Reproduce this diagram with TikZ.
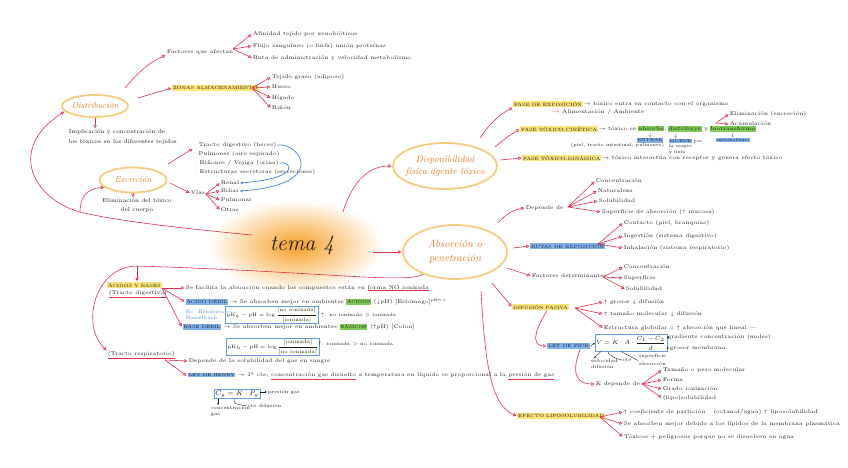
\documentclass[tikz,border=0pt]{standalone}
\usepackage{amsmath,amssymb}
\usetikzlibrary{arrows.meta,shapes.geometric,calc}
\definecolor{linered}{RGB}{224,48,78}
\definecolor{ellc}{RGB}{244,204,128}
\definecolor{orng}{RGB}{232,118,40}
\definecolor{hly}{RGB}{251,228,120}
\definecolor{hlb}{RGB}{128,178,238}
\definecolor{hlg}{RGB}{128,204,84}
\definecolor{bluearr}{RGB}{64,132,218}
\definecolor{txtc}{RGB}{28,28,28}
\definecolor{glow}{RGB}{246,160,40}
\newcommand\myhly[1]{{\setlength{\fboxsep}{0.7pt}\colorbox{hly}{#1}}}
\newcommand\myhlb[1]{{\setlength{\fboxsep}{0.7pt}\colorbox{hlb}{#1}}}
\newcommand\myhlg[1]{{\setlength{\fboxsep}{0.7pt}\colorbox{hlg}{#1}}}
\newcommand\myredul[1]{\textcolor{linered}{\underline{\textcolor{txtc}{#1}}}}
\newcommand\mycaps[1]{{\fontsize{4.5}{5.5}\selectfont #1}}
\begin{document}
\begin{tikzpicture}[x=1pt,y=-1pt,
  txt/.style={font=\fontsize{5.4}{6.5}\selectfont, text=txtc, inner sep=0.6pt, anchor=west},
  ml/.style={txt, align=left, anchor=north west},
  capy/.style={txt, fill=hly, font=\fontsize{4.6}{5.5}\selectfont, inner sep=1pt},
  capb/.style={txt, fill=hlb, font=\fontsize{4.6}{5.5}\selectfont, inner sep=1pt},
  arr/.style={draw=linered, line width=0.6pt, -{Triangle[open,length=3.2pt,width=3.4pt]}, shorten >=0.5pt},
  sarr/.style={draw=txtc, line width=0.35pt, -{Stealth[length=2.2pt,width=1.8pt]}},
  sln/.style={draw=txtc, line width=0.35pt},
  barr/.style={draw=bluearr, line width=0.7pt, -{Stealth[length=3pt,width=2.6pt]}},
  topic/.style={ellipse, draw=ellc, line width=1.8pt, inner sep=0pt},
  fbx/.style={draw=bluearr!80, line width=0.45pt, inner sep=1.2pt, text=txtc}
]
\useasboundingbox (0,0) rectangle (848,468);

% ---------- centre ----------
\shade[inner color=glow, outer color=white] (296,246) ellipse [x radius=88pt, y radius=46pt];
\node[font=\itshape\fontsize{22}{24}\selectfont, text=txtc] (tema) at (302,245) {tema 4};

% ---------- topics ----------
\node[topic, minimum width=66pt, minimum height=22pt,
  label={[text=orng, font=\itshape\fontsize{8.5}{10}\selectfont]center:Distribución}] (dist) at (95,106) {};
\node[topic, minimum width=67pt, minimum height=25pt,
  label={[text=orng, font=\itshape\fontsize{8.5}{10}\selectfont]center:Excreción}] (exc) at (133,180) {};
\node[topic, minimum width=104pt, minimum height=46pt,
  label={[text=orng, font=\itshape\fontsize{9.5}{12}\selectfont, align=center]center:{Disponibilidad\\física agente tóxico}}] (disp) at (445,166) {};
\node[topic, minimum width=104pt, minimum height=54pt,
  label={[text=orng, font=\itshape\fontsize{10.5}{14}\selectfont, align=center]center:{Absorción o\\penetración}}] (abs) at (455,252) {};

% ---------- main connectors from centre ----------
\coordinate (t0) at (252,235);
\coordinate (jA) at (80,212);
\draw[arr] (t0) .. controls (200,230) and (120,222) .. (jA) .. controls (35,200) and (5,150) .. (dist.190);
\draw[arr] (jA) .. controls (80,196) and (88,188) .. (exc.195);
\coordinate (t1) at (343,212);
\draw[arr] (t1) .. controls (350,188) and (365,166) .. (disp.west);
\coordinate (t2) at (373,252);
\draw[arr] (t2) -- (abs.west);
\coordinate (jB) at (137,266);
\node[capy] (acb) at (107,285) {ÁCIDOS Y BASES};
\node[txt] (tdg) at (108,294) {\myredul{(Tracto digestivo)}};
\node[txt] (trr) at (107,355) {\myredul{(Tracto respiratorio)}};
\draw[arr] (abs.215) .. controls (405,284) and (330,272) .. (jB) .. controls (95,266) and (80,325) .. (trr.north west);
\draw[arr] (jB) -- (jB |- acb.north);

% ---------- Distribución ----------
\node[txt] (fac) at (166,52) {Factores que afectan};
\coordinate (d1s) at (125,88);
\draw[arr] (d1s) .. controls (138,72) and (150,62) .. (fac.south west);
\coordinate (ff) at (233,49);
\node[txt] (a1) at (252,34) {Afinidad tejido por xenobióticos};
\node[txt] (a2) at (252,46) {Flujo sanguíneo (o linfa) unión proteínas};
\node[txt] (a3) at (252,58) {Ruta de administración y velocidad metabolismo};
\foreach \n in {a1,a2,a3} \draw[arr] (ff) -- (\n.west);
\node[capy] (zon) at (172,88) {ZONAS ALMACENAMIENTO};
\coordinate (d2s) at (138,98);
\draw[arr] (d2s) -- (zon.west);
\coordinate (zf) at (252,88);
\node[txt] (z1) at (271,77) {Tejido graso (adiposo)};
\node[txt] (z2) at (271,87) {Hueso};
\node[txt] (z3) at (271,98) {Hígado};
\node[txt] (z4) at (271,108) {Riñón};
\foreach \n in {z1,z2,z3,z4} \draw[arr] (zf) -- (\n.west);
\node[ml, font=\fontsize{5.8}{9.5}\selectfont] (dnote) at (68,129) {Implicación y concentración de\\los tóxicos en los diferentes tejidos};
\draw[arr] (dist.south) -- (dist.south |- dnote.north);

% ---------- Excreción ----------
\node[txt] (x1) at (193,145) {$\cdot$ Tracto digestivo (heces)};
\node[txt] (x2) at (193,154) {$\cdot$ Pulmones (aire espirado)};
\node[txt] (x3) at (194,163) {$\cdot$ Riñones / Vejiga (orina)};
\node[txt] (x4) at (194,172) {$\cdot$ Estructuras secretoras (secreciones)};
\coordinate (e1s) at (168,164);
\draw[arr] (e1s) -- (x1.south west);
\node[txt] (vias) at (190,193) {Vías};
\coordinate (e2s) at (170,183);
\draw[arr] (e2s) -- (vias.west);
\coordinate (vf) at (206,194);
\node[txt] (ren) at (220,183) {Renal};
\node[txt] (bil) at (220,191) {Biliar};
\node[txt] (pul) at (220,200) {Pulmonar};
\node[txt] (otr) at (220,210) {Otras};
\foreach \n in {ren,bil,pul,otr} \draw[arr] (vf) -- (\n.west);
\node[ml, font=\fontsize{5.8}{9}\selectfont, align=center, anchor=north] (enote) at (137,198) {Eliminación del tóxico\\del cuerpo};
\draw[arr] (exc.south) -- (exc.south |- enote.north);
\draw[barr] (x1.east) .. controls (300,142) and (330,185) .. (bil.east);
\draw[barr] (x3.east) .. controls (290,160) and (305,178) .. (ren.east);

% ---------- Disponibilidad ----------
\node[capy] (fexp) at (513,104) {FASE DE EXPOSICIÓN};
\node[txt] (fexpt) at (fexp.east) {$\to$ tóxico entra en contacto con el organismo};
\node[txt] (alim) at (551,112) {{\color{linered}$\hookrightarrow$} Alimentación / Ambiente};
\coordinate (p1) at (480,138);
\draw[arr] (p1) .. controls (488,126) and (497,116) .. (fexp.south west);

\node[capy] (ftc) at (520,129) {FASE TÓXICO-CINÉTICA};
\node[txt] (ftct) at (ftc.east) {$\to$ tóxico se};
\node[txt] (tcA) at (ftct.east) {\myhlg{absorbe},};
\node[txt] (tcD) at (tcA.east) {\myhlg{distribuye} y};
\node[txt] (tcB) at (tcD.east) {\myhlg{biotransforma}};
\coordinate (p2) at (495,147);
\draw[arr] (p2) .. controls (503,140) and (510,135) .. (ftc.west);
\node[txt, anchor=north, align=center, font=\fontsize{4.3}{5}\selectfont] (ent) at ([xshift=-2pt]tcA.south) {$\downarrow$\\\myhlb{ENTRAR}};
\node[txt, anchor=north west, align=left, font=\fontsize{4.3}{5.4}\selectfont] (mue) at ([xshift=1pt]tcD.south west) {\hspace{5pt}$\downarrow$\\\myhlb{MUEVE} por\\la sangre\\y linfa};
\node[txt, anchor=north, align=center, font=\fontsize{4.3}{5}\selectfont] (met) at (tcB.south) {$\downarrow$\\\myhlb{metabolismo}};
\node[txt, font=\fontsize{4.6}{5.5}\selectfont] (piel) at (570,145) {(piel, tracto intestinal, pulmones)};
\coordinate (bf) at (716,123);
\node[txt] (elim) at (729,114) {Eliminación (excreción)};
\node[txt] (acum) at (729,124) {Acumulación};
\draw[arr] (bf) -- (elim.west);
\draw[arr] (bf) -- (acum.west);

\node[capy] (ftd) at (522,158) {FASE TÓXICO-DINÁMICA};
\node[txt] (ftdt) at (ftd.east) {$\to$ tóxico interactúa con receptor y genera efecto tóxico};
\coordinate (p3) at (500,160);
\draw[arr] (p3) -- (ftd.west);

% ---------- Absorción ----------
\node[txt] (dep) at (525,208) {Depende de};
\coordinate (q1) at (498,223);
\draw[arr] (q1) .. controls (505,215) and (512,210) .. (dep.west);
\coordinate (depf) at (568,207);
\node[txt] (c1) at (595,181) {Concentración};
\node[txt] (c2) at (597,191) {Naturaleza};
\node[txt] (c3) at (598,201) {Solubilidad};
\node[txt] (c4) at (601,212) {Superficie de absorción ($\uparrow$ mucosa)};
\foreach \n in {c1,c2,c3,c4} \draw[arr] (depf) -- (\n.west);

\node[capb] (rut) at (530,246) {RUTAS DE EXPOSICIÓN};
\coordinate (q2) at (513,248);
\draw[arr] (q2) -- (rut.west);
\coordinate (rf) at (598,244);
\node[txt] (r1) at (623,223) {Contacto (piel, branquias)};
\node[txt] (r2) at (623,236) {Ingestión (sistema digestivo)};
\node[txt] (r3) at (623,248) {Inhalación (sistema respiratorio)};
\foreach \n in {r1,r2,r3} \draw[arr] (rf) -- (\n.west);

\node[txt] (fd) at (531,276) {Factores determinantes};
\coordinate (q3) at (507,268);
\draw[arr] (q3) -- (fd.west);
\coordinate (fdf) at (603,277);
\node[txt] (g1) at (623,267) {Concentración};
\node[txt] (g2) at (623,278) {Superficie};
\node[txt] (g3) at (625,289) {Solubilidad};
\foreach \n in {g1,g2,g3} \draw[arr] (fdf) -- (\n.west);

\node[capy] (dif) at (512,307) {DIFUSIÓN PASIVA};
\coordinate (q4) at (492,283);
\draw[arr] (q4) -- (dif.west);
\coordinate (dff) at (575,308);
\node[txt] (h1) at (603,302) {$\uparrow$ grosor $\downarrow$ difusión};
\node[txt] (h2) at (603,314) {$\uparrow$ tamaño molecular $\downarrow$ difusión};
\node[txt] (h3) at (603,328) {Estructura globular {\color{bluearr}$\boldsymbol{\circ}$} $\uparrow$ absorción que lineal ---};
\foreach \n in {h1,h2,h3} \draw[arr] (dff) -- (\n.west);

\node[capb] (fick) at (547,346) {LEY DE FICK};
\draw[arr] ([xshift=-22pt]dif.south east) .. controls (530,338) and (535,346) .. (fick.west);
\node[fbx, font=\fontsize{6}{7}\selectfont] (fbox) at (631,343) {$V = K\cdot A\cdot\dfrac{C_1-C_2}{d}$};
\draw[sarr] (fick.east) -- (fbox.west);
\node[txt] (grad) at (667,337) {gradiente concentración (moles)};
\node[txt] (gros) at (669,348) {grosor membrana};
\draw[sarr] (fbox.east |- grad.west) -- (grad.west);
\draw[sarr] (fbox.east |- gros.west) -- (gros.west);
\node[txt, anchor=north west, align=left, font=\fontsize{4.8}{6}\selectfont] (vel) at (590,358) {velocidad\\difusión};
\node[txt, font=\fontsize{4.8}{6}\selectfont] (cte) at (622,360) {cte};
\node[txt, anchor=north west, align=left, font=\fontsize{4.8}{8}\selectfont] (sup) at (638,353) {superficie\\absorción};
\draw[sarr] ([xshift=6pt]fbox.south west) -- ([xshift=4pt]vel.north west);
\draw[sln] ([xshift=13pt]fbox.south west) .. controls ([xshift=13pt,yshift=-4pt]fbox.south west) and ([xshift=-3pt]cte.west) .. (cte.west);
\draw[sln] ([xshift=26pt]fbox.south west) -- ([yshift=-1pt]sup.west);

\node[txt] (kdep) at (595,384) {K depende de};
\draw[arr] ([xshift=-10pt]fick.south east) .. controls (570,375) and (578,384) .. (kdep.west);
\coordinate (kf) at (642,384);
\node[txt] (k1) at (662,370) {Tamaño o peso molecular};
\node[txt] (k2) at (662,380) {Forma};
\node[txt] (k3) at (662,389) {Grado ionización};
\node[txt] (k4) at (662,398) {(lipo)solubilidad};
\foreach \n in {k1,k2,k3,k4} \draw[arr] (kf) -- (\n.west);

\node[capy] (efl) at (517,416) {EFECTO LIPOSOLUBILIDAD};
\coordinate (q5) at (481,291);
\draw[arr] (q5) .. controls (485,360) and (490,405) .. (efl.west);
\coordinate (eff) at (600,417);
\node[txt] (l1) at (623,412) {$\uparrow$ coeficiente de partición \quad (octanol/agua) $\uparrow$ liposolubilidad};
\node[txt] (l2) at (623,424) {Se absorben mejor debido a los lípidos de la membrana plasmática};
\node[txt] (l3) at (623,437) {Tóxicos + peligrosos porque no se disuelven en agua};
\foreach \n in {l1,l2,l3} \draw[arr] (eff) -- (\n.west);

% ---------- Ácidos y bases ----------
\coordinate (af) at (162,288);
\node[txt] (n1) at (185,288) {Se facilita la absorción cuando los compuestos están en \myredul{forma NO ionizada}};
\node[txt] (n2) at (185,302) {\myhlb{\mycaps{ÁCIDO DÉBIL}} $\to$ Se absorben mejor en ambientes \myhlg{\mycaps{ÁCIDOS}} ($\downarrow$pH) [Estómago]\textsuperscript{pH$\sim$1}};
\node[txt, anchor=north west, align=left, text=bluearr, font=\fontsize{4.8}{6}\selectfont] (hend) at (185,309) {Ec. Henderson-\\Hasselbach};
\node[fbx, font=\fontsize{5}{6}\selectfont] (pka) at (272,315) {$\mathrm{pK_a}-\mathrm{pH}=\log\dfrac{[\text{no ionizada}]}{[\text{ionizada}]}$};
\node[txt, font=\fontsize{4.8}{6}\selectfont] (pkat) at (320,315) {$\uparrow$: no ionizada $>$ ionizada};
\node[txt] (n3) at (182,327) {\myhlb{\mycaps{BASE DÉBIL}} $\to$ Se absorben mejor en ambientes \myhlg{\mycaps{BÁSICOS}} ($\uparrow$pH) [Colon]};
\node[fbx, font=\fontsize{5}{6}\selectfont] (pkb) at (273,347) {$\mathrm{pK_b}-\mathrm{pH}=\log\dfrac{[\text{ionizada}]}{[\text{no ionizada}]}$};
\node[txt, font=\fontsize{4.8}{6}\selectfont] (pkbt) at (317,344) {$\uparrow$: ionizada $>$ no ionizada};
\draw[arr] (af) -- (n1.west);
\draw[arr] (af) -- (n2.west);
\draw[arr] (af) -- (n3.west);

% ---------- Tracto respiratorio ----------
\coordinate (rf2) at (165,360);
\node[txt] (s1) at (188,361) {Depende de la solubilidad del gas en sangre};
\node[txt] (hen) at (187,376) {\myhlb{\mycaps{LEY DE HENRY}} $\to$ 1ª cte, \myredul{concentración gas disuelto} a temperatura en líquido es proporcional a la \myredul{presión de gas}};
\draw[arr] (rf2) -- (s1.west);
\draw[arr] (rf2) -- (hen.west);
\node[fbx, font=\fontsize{7.5}{8}\selectfont] (hbox) at (237,394) {$C_g = K\cdot P_g$};
\node[txt, font=\fontsize{4.8}{6}\selectfont] (pg) at (267,392) {presión gas};
\draw[sarr] (hbox.east |- pg.west) -- (pg.west);
\node[txt, anchor=north west, align=left, font=\fontsize{4.8}{6}\selectfont] (cgn) at (210,405) {concentración\\gas};
\draw[sarr] ([xshift=4pt]hbox.south west) -- ([xshift=4pt]hbox.south west |- cgn.north);
\node[txt, font=\fontsize{4.8}{6}\selectfont] (ctd) at (247,406) {cte difusión};
\draw[sln] ([xshift=20pt]hbox.south west) .. controls ([xshift=20pt,yshift=-5pt]hbox.south west) .. (ctd.west);
\end{tikzpicture}
\end{document}
